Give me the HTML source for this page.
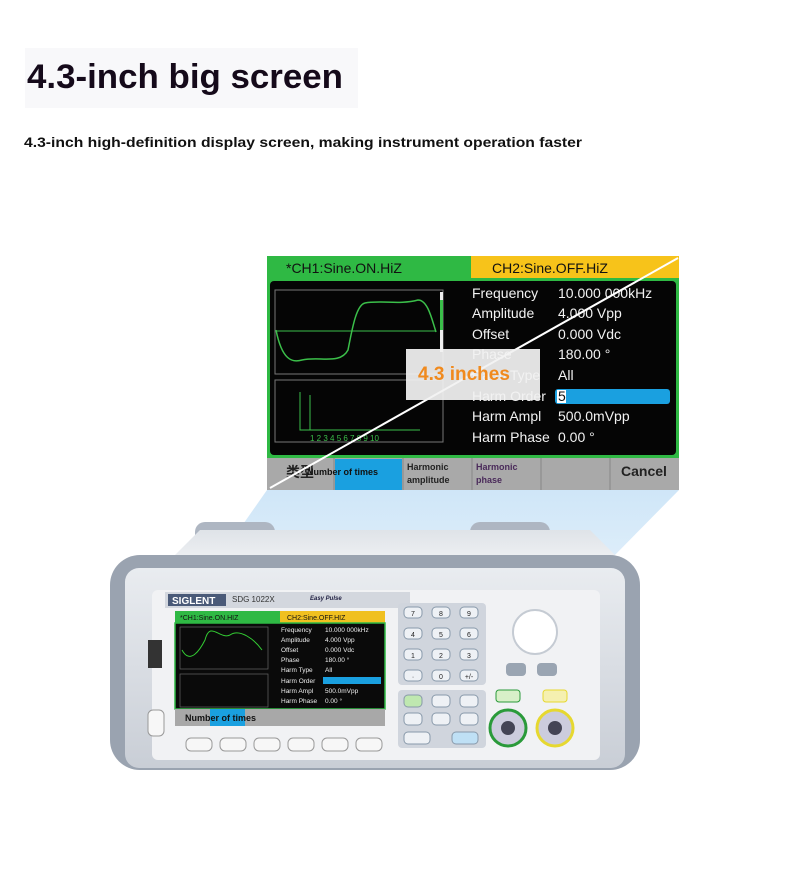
<!DOCTYPE html>
<html><head><meta charset="utf-8"><style>
html,body{margin:0;padding:0;background:#fff;}
svg{display:block;font-family:"Liberation Sans","Noto Sans CJK SC",sans-serif;}
</style></head><body>
<svg width="790" height="870" viewBox="0 0 790 870" xmlns="http://www.w3.org/2000/svg">
<defs>
<linearGradient id="beam" x1="0" y1="0" x2="0" y2="1">
<stop offset="0" stop-color="#cfe6f8"/><stop offset="1" stop-color="#e6f2fb"/></linearGradient>
<linearGradient id="body" x1="0" y1="0" x2="0" y2="1">
<stop offset="0" stop-color="#e9ecf0"/><stop offset="1" stop-color="#c9ced6"/></linearGradient>
<linearGradient id="top" x1="0" y1="0" x2="0" y2="1">
<stop offset="0" stop-color="#dfe3e8"/><stop offset="1" stop-color="#eef0f3"/></linearGradient>
</defs>
<rect x="25" y="48" width="333" height="60" fill="#f8f8fa"/>
<text x="27" y="88" font-size="34" font-weight="bold" fill="#150a1a" textLength="316" lengthAdjust="spacingAndGlyphs">4.3-inch big screen</text>
<text x="24" y="147" font-size="14" font-weight="bold" fill="#111" textLength="558" lengthAdjust="spacingAndGlyphs">4.3-inch high-definition display screen, making instrument operation faster</text>

<!-- beam -->
<polygon points="267,490 679,490 610,560 190,600" fill="url(#beam)"/>

<!-- device -->
<rect x="195" y="522" width="80" height="30" rx="10" fill="#aeb6c2"/>
<rect x="470" y="522" width="80" height="30" rx="10" fill="#aeb6c2"/>
<polygon points="170,560 620,560 590,530 200,530" fill="url(#top)"/>
<rect x="110" y="555" width="530" height="215" rx="30" fill="#9aa3b0"/>
<rect x="125" y="568" width="500" height="200" rx="14" fill="url(#body)"/>
<rect x="152" y="590" width="448" height="170" rx="6" fill="#f1f2f4"/>
<rect x="165" y="592" width="245" height="16" fill="#d3d7de"/>
<rect x="168" y="594" width="58" height="12" fill="#4a5a78"/>
<text x="172" y="604" font-size="10" font-weight="bold" fill="#fff">SIGLENT</text>
<text x="232" y="602" font-size="8" fill="#333">SDG 1022X</text>
<text x="310" y="600" font-size="6" font-style="italic" font-weight="bold" fill="#224">Easy Pulse</text>
<!-- small screen -->
<rect x="175" y="611" width="210" height="12" fill="#2fb944"/>
<rect x="280" y="611" width="105" height="12" fill="#f0c020"/>
<text x="180" y="620" font-size="7" fill="#111">*CH1:Sine.ON.HIZ</text>
<text x="287" y="620" font-size="7" fill="#111">CH2:Sine.OFF.HIZ</text>
<rect x="175" y="623" width="210" height="86" fill="#0a0a0a" stroke="#2fb944" stroke-width="1.5"/>
<rect x="180" y="627" width="88" height="42" fill="none" stroke="#666" stroke-width="0.7"/>
<path d="M182 650 C190 665 200 650 205 640 C210 620 220 640 230 635 C240 628 255 640 262 650" stroke="#3c3" fill="none" stroke-width="1"/>
<rect x="180" y="674" width="88" height="33" fill="none" stroke="#666" stroke-width="0.7"/>
<g font-size="6.5" fill="#eee">
<text x="281" y="632">Frequency</text><text x="325" y="632">10.000 000kHz</text>
<text x="281" y="642">Amplitude</text><text x="325" y="642">4.000 Vpp</text>
<text x="281" y="652">Offset</text><text x="325" y="652">0.000 Vdc</text>
<text x="281" y="662">Phase</text><text x="325" y="662">180.00 °</text>
<text x="281" y="672">Harm Type</text><text x="325" y="672">All</text>
<rect x="323" y="677" width="58" height="7" fill="#1aa0e0"/>
<text x="281" y="683">Harm Order</text>
<text x="281" y="693">Harm Ampl</text><text x="325" y="693">500.0mVpp</text>
<text x="281" y="703">Harm Phase</text><text x="325" y="703">0.00 °</text>
</g>
<rect x="175" y="709" width="210" height="17" fill="#a8a8a8"/>
<rect x="210" y="709" width="35" height="17" fill="#1aa0e0"/>
<text x="185" y="721" font-size="9" font-weight="bold" fill="#111">Number of times</text>
<g fill="#f7f7f7" stroke="#999" stroke-width="1">
<rect x="186" y="738" width="26" height="13" rx="5"/><rect x="220" y="738" width="26" height="13" rx="5"/>
<rect x="254" y="738" width="26" height="13" rx="5"/><rect x="288" y="738" width="26" height="13" rx="5"/>
<rect x="322" y="738" width="26" height="13" rx="5"/><rect x="356" y="738" width="26" height="13" rx="5"/>
<rect x="148" y="710" width="16" height="26" rx="5"/>
</g>
<rect x="148" y="640" width="14" height="28" fill="#333"/>
<!-- keypad -->
<rect x="398" y="603" width="88" height="82" rx="4" fill="#d0d5dd"/>
<rect x="398" y="690" width="88" height="58" rx="4" fill="#d0d5dd"/>
<g fill="#eef1f5" stroke="#8899aa" stroke-width="1">
<rect x="404" y="607" width="18" height="11" rx="4"/><rect x="432" y="607" width="18" height="11" rx="4"/><rect x="460" y="607" width="18" height="11" rx="4"/>
<rect x="404" y="628" width="18" height="11" rx="4"/><rect x="432" y="628" width="18" height="11" rx="4"/><rect x="460" y="628" width="18" height="11" rx="4"/>
<rect x="404" y="649" width="18" height="11" rx="4"/><rect x="432" y="649" width="18" height="11" rx="4"/><rect x="460" y="649" width="18" height="11" rx="4"/>
<rect x="404" y="670" width="18" height="11" rx="4"/><rect x="432" y="670" width="18" height="11" rx="4"/><rect x="460" y="670" width="18" height="11" rx="4"/>
<rect x="404" y="695" width="18" height="12" rx="4" fill="#bfe8b0"/><rect x="432" y="695" width="18" height="12" rx="4"/><rect x="460" y="695" width="18" height="12" rx="4"/>
<rect x="404" y="713" width="18" height="12" rx="4"/><rect x="432" y="713" width="18" height="12" rx="4"/><rect x="460" y="713" width="18" height="12" rx="4"/>
<rect x="404" y="732" width="26" height="12" rx="4"/><rect x="452" y="732" width="26" height="12" rx="4" fill="#bfe0f5"/>
</g>
<g font-size="7" fill="#222" text-anchor="middle">
<text x="413" y="616">7</text><text x="441" y="616">8</text><text x="469" y="616">9</text>
<text x="413" y="637">4</text><text x="441" y="637">5</text><text x="469" y="637">6</text>
<text x="413" y="658">1</text><text x="441" y="658">2</text><text x="469" y="658">3</text>
<text x="413" y="679">·</text><text x="441" y="679">0</text><text x="469" y="679">+/-</text>
</g>
<circle cx="535" cy="632" r="22" fill="#fff" stroke="#c5cbd3" stroke-width="2"/>
<rect x="506" y="663" width="20" height="13" rx="4" fill="#9aa5b2"/>
<rect x="537" y="663" width="20" height="13" rx="4" fill="#9aa5b2"/>
<circle cx="508" cy="728" r="18" fill="#ccd" stroke="#2a9a3a" stroke-width="3"/>
<circle cx="508" cy="728" r="7" fill="#445"/>
<circle cx="555" cy="728" r="18" fill="#ccd" stroke="#e6d830" stroke-width="3"/>
<circle cx="555" cy="728" r="7" fill="#445"/>
<rect x="496" y="690" width="24" height="12" rx="3" fill="#d8f0c8" stroke="#2a9a3a"/>
<rect x="543" y="690" width="24" height="12" rx="3" fill="#f5f0b0" stroke="#e6d830"/>

<!-- big screen -->
<rect x="267" y="256" width="204" height="22" fill="#2fb944"/>
<rect x="471" y="256" width="208" height="22" fill="#f7c31a"/>
<text x="286" y="273" font-size="14" fill="#111">*CH1:Sine.ON.HiZ</text>
<text x="492" y="273" font-size="14" fill="#111">CH2:Sine.OFF.HiZ</text>
<rect x="267" y="278" width="412" height="180" fill="#2fb944"/>
<rect x="270" y="281" width="406" height="174" rx="4" fill="#050505"/>
<rect x="275" y="290" width="168" height="84" fill="none" stroke="#777" stroke-width="1"/>
<rect x="275" y="380" width="168" height="62" fill="none" stroke="#777" stroke-width="1"/>
<line x1="276" y1="331" x2="436" y2="331" stroke="#3bbf4a" stroke-width="1"/>
<path d="M276 330 C282 360 292 363 302 360 C320 356 340 365 348 350 C352 330 356 305 365 303 C380 300 400 305 418 300 C428 300 432 320 436 332" stroke="#3bbf4a" fill="none" stroke-width="1.5"/>
<rect x="440" y="292" width="3" height="60" fill="#eee"/>
<rect x="440" y="300" width="3" height="30" fill="#3bbf4a"/>
<path d="M300 392 V430 H420 M310 395 V430 M302 428 M312 420" stroke="#3bbf4a" fill="none" stroke-width="1"/>
<text x="310" y="441" font-size="8" fill="#3bbf4a">1 2 3 4 5 6 7 8 9 10</text>
<g font-size="14" fill="#f2f2f2">
<text x="472" y="298">Frequency</text><text x="558" y="298">10.000 000kHz</text>
<text x="472" y="318">Amplitude</text><text x="558" y="318">4.000 Vpp</text>
<text x="472" y="339">Offset</text><text x="558" y="339">0.000 Vdc</text>
<text x="472" y="359">Phase</text><text x="558" y="359">180.00 °</text>
<text x="472" y="380">Harm Type</text><text x="558" y="380">All</text>
<rect x="555" y="389" width="115" height="15" rx="3" fill="#1aa0e0"/>
<rect x="557" y="390" width="9" height="13" fill="#fff"/>
<text x="558" y="401" fill="#111">5</text>
<text x="472" y="401">Harm Order</text>
<text x="472" y="421">Harm Ampl</text><text x="558" y="421">500.0mVpp</text>
<text x="472" y="442">Harm Phase</text><text x="558" y="442">0.00 °</text>
</g>
<rect x="267" y="458" width="412" height="32" fill="#a9a9a9"/>
<rect x="335" y="459" width="67" height="31" fill="#1aa0e0"/>
<g stroke="#888" stroke-width="1"><line x1="334" y1="458" x2="334" y2="490"/><line x1="403" y1="458" x2="403" y2="490"/><line x1="472" y1="458" x2="472" y2="490"/><line x1="541" y1="458" x2="541" y2="490"/><line x1="610" y1="458" x2="610" y2="490"/></g>
<text x="286" y="477" font-size="14" font-weight="bold" fill="#222">类型</text>
<text x="307" y="475" font-size="9" font-weight="bold" fill="#111">Number of times</text>
<text x="407" y="470" font-size="9" font-weight="bold" fill="#222">Harmonic</text>
<text x="407" y="483" font-size="9" font-weight="bold" fill="#222">amplitude</text>
<text x="476" y="470" font-size="9" font-weight="bold" fill="#4a2a5a">Harmonic</text>
<text x="476" y="483" font-size="9" font-weight="bold" fill="#4a2a5a">phase</text>
<text x="621" y="476" font-size="14" font-weight="bold" fill="#222">Cancel</text>
<line x1="270" y1="488" x2="678" y2="258" stroke="#fff" stroke-width="2"/>
<rect x="406" y="349" width="134" height="51" fill="#f2f2f2" fill-opacity="0.93"/>
<text x="418" y="380" font-size="19" font-weight="bold" fill="#f08a1e">4.3 inches</text>
</svg>
</body></html>
